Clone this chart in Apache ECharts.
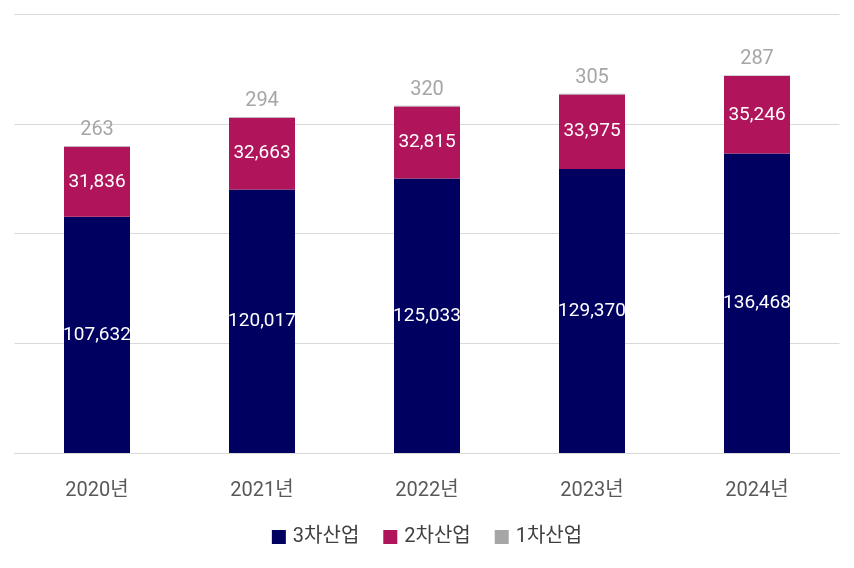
<!DOCTYPE html>
<html><head><meta charset="utf-8">
<script src="https://cdn.jsdelivr.net/npm/echarts@6/dist/echarts.min.js"></script>
<style>html,body{margin:0;padding:0;background:#fff}#c{width:854px;height:568px}</style>
</head><body><div id="c"></div>
<script>
const categories = ['2020년','2021년','2022년','2023년','2024년'];
const tertiary = [107632,120017,125033,129370,136468];
const secondary = [31836,32663,32815,33975,35246];
const primary = [263,294,320,305,287];
const seriesNames = ['3차산업','2차산업','1차산업'];

const font = '"Roboto","Noto Sans CJK KR",sans-serif';
const fmt = p => p.value.toLocaleString('en-US');
const chart = echarts.init(document.getElementById('c'));
chart.setOption({
  animation:false,
  textStyle:{fontFamily:font},
  grid:{left:14.5,right:14.5,top:14,bottom:115},
  legend:{
    bottom:16,left:'center',itemWidth:14,itemHeight:14,itemGap:24,icon:'rect',
    textStyle:{fontSize:20,color:'#404040',fontFamily:font,padding:[0,0,0,2]},
    data:seriesNames
  },
  xAxis:{type:'category',data:categories,
    axisLine:{show:true,lineStyle:{color:'#d9d9d9'}},axisTick:{show:false},
    axisLabel:{fontSize:20,color:'#595959',margin:28,fontFamily:font}},
  yAxis:{type:'value',min:0,max:200000,interval:50000,
    axisLabel:{show:false},axisLine:{show:false},axisTick:{show:false},
    splitLine:{lineStyle:{color:'#d9d9d9'}}},
  series:[
    {name:seriesNames[0],type:'bar',stack:'a',data:tertiary,barWidth:'40%',
     itemStyle:{color:'#000060'},
     label:{show:true,position:'inside',color:'#fff',fontSize:19,formatter:fmt,fontFamily:font}},
    {name:seriesNames[1],type:'bar',stack:'a',data:secondary,
     itemStyle:{color:'#b0155b'},
     label:{show:true,position:'inside',color:'#fff',fontSize:19,formatter:fmt,fontFamily:font}},
    {name:seriesNames[2],type:'bar',stack:'a',data:primary,
     itemStyle:{color:'#a6a6a6'},
     label:{show:true,position:'top',distance:6,color:'#a6a6a6',fontSize:20,formatter:fmt,fontFamily:font}}
  ]
});
</script></body></html>
